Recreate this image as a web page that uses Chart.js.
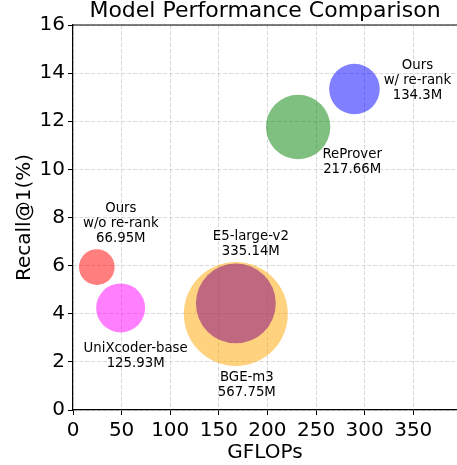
<!DOCTYPE html>
<html>
<head>
<meta charset="utf-8">
<script src="https://cdn.jsdelivr.net/npm/chart.js@4/dist/chart.umd.min.js"></script>
<style>
  body { margin: 0; background: #fff; }
  #wrap { width: 457px; height: 465px; }
</style>
</head>
<body>
<div id="wrap"><canvas id="chart"></canvas></div>
<script>
// data
const models = [
    ['Ours', 'w/ re-rank', '134.3M'],
    ['ReProver', '217.66M'],
    ['Ours', 'w/o re-rank', '66.95M'],
    ['UniXcoder-base', '125.93M'],
    ['E5-large-v2', '335.14M'],
    ['BGE-m3', '567.75M']
];
const gflops = [289.5, 231.6, 24.5, 49, 167.5, 167.5];
const recall = [13.34, 11.76, 5.94, 4.24, 4.43, 3.99];
const params = [134.3, 217.66, 66.95, 125.93, 335.14, 567.75];
const xTicks = [0, 50, 100, 150, 200, 250, 300, 350];
const yTicks = [0, 2, 4, 6, 8, 10, 12, 14, 16];

// styling
const colors = [
    'rgba(0, 0, 255, 0.5)',
    'rgba(0, 128, 0, 0.5)',
    'rgba(255, 0, 0, 0.5)',
    'rgba(255, 0, 255, 0.5)',
    'rgba(128, 0, 128, 0.5)',
    'rgba(255, 165, 0, 0.5)'
];
// label offset from bubble centre (px): [dx, dy of first line]
const labelOffsets = [[63, -23], [54, 28], [24, -59], [15, 41], [15, -67], [11, 64]];
const drawOrder = [1, 1, 1, 1, 0, 2];

const FONT = 'DejaVu Sans';

const datasets = models.map(function(m, i) {
    return {
        label: m.join(' '),
        data: [{x: gflops[i], y: recall[i], r: Math.sqrt(params[i] * 4.76)}],
        backgroundColor: colors[i],
        borderWidth: 0,
        hoverBorderWidth: 0,
        order: drawOrder[i]
    };
});

const bubbleLabels = {
    id: 'bubbleLabels',
    afterDraw: function(chart) {
        const ctx = chart.ctx;
        const area = chart.chartArea;
        ctx.save();
        // top spine
        ctx.strokeStyle = '#000';
        ctx.lineWidth = 1.2;
        ctx.beginPath();
        ctx.moveTo(area.left, area.top);
        ctx.lineTo(area.right, area.top);
        ctx.stroke();

        ctx.fillStyle = '#000';
        ctx.font = '13.3px "' + FONT + '"';
        ctx.textAlign = 'center';
        ctx.textBaseline = 'middle';
        models.forEach(function(lines, i) {
            const pt = chart.getDatasetMeta(i).data[0];
            lines.forEach(function(t, k) {
                ctx.fillText(t, pt.x + labelOffsets[i][0], pt.y + labelOffsets[i][1] + k * 15);
            });
        });
        ctx.restore();
    }
};

new Chart(document.getElementById('chart').getContext('2d'), {
    type: 'bubble',
    data: { datasets: datasets },
    options: {
        responsive: true,
        maintainAspectRatio: false,
        animation: false,
        layout: { padding: 0, autoPadding: false },
        plugins: {
            legend: { display: false },
            tooltip: { enabled: false },
            title: {
                display: true,
                fullSize: false,
                text: 'Model Performance Comparison',
                color: '#000',
                font: { family: FONT, size: 22, weight: 'normal', lineHeight: 1.0 },
                padding: { top: 0, bottom: 3 }
            }
        },
        scales: {
            x: {
                type: 'linear',
                min: 0,
                max: 395,
                afterBuildTicks: function(scale) {
                    scale.ticks = xTicks.map(function(v) { return {value: v}; });
                },
                afterFit: function(scale) { scale.height = 55; },
                grid: { color: 'rgba(190,190,190,0.6)', tickColor: '#000', tickLength: 5 },
                border: { display: true, color: '#000', width: 1.2, dash: [4, 2] },
                ticks: { color: '#000', padding: 4, maxRotation: 0, font: { family: FONT, size: 20 } },
                title: {
                    display: true,
                    text: 'GFLOPs',
                    color: '#000',
                    font: { family: FONT, size: 20 },
                    padding: { top: 0, bottom: 0 }
                }
            },
            y: {
                type: 'linear',
                min: 0,
                max: 16,
                afterBuildTicks: function(scale) {
                    scale.ticks = yTicks.map(function(v) { return {value: v}; });
                },
                afterFit: function(scale) { scale.width = 73; },
                grid: { color: 'rgba(190,190,190,0.6)', tickColor: '#000', tickLength: 5 },
                border: { display: true, color: '#000', width: 1.2, dash: [4, 2] },
                ticks: { color: '#000', padding: 3, font: { family: FONT, size: 20 } },
                title: {
                    display: true,
                    text: 'Recall@1(%)',
                    color: '#000',
                    font: { family: FONT, size: 20 },
                    padding: { top: 13, bottom: 0 }
                }
            }
        }
    },
    plugins: [bubbleLabels]
});
</script>
</body>
</html>
